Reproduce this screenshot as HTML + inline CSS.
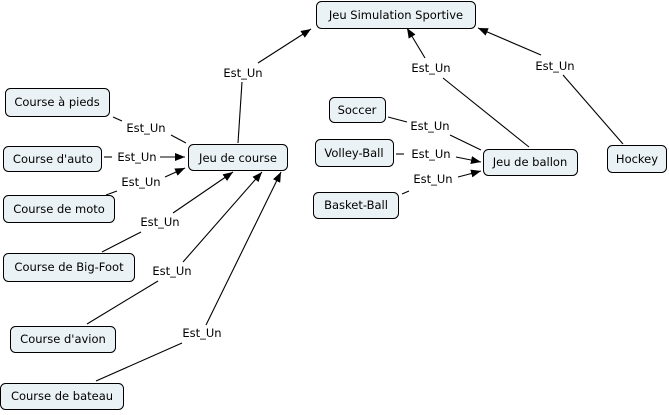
<!DOCTYPE html>
<html><head><meta charset="utf-8"><style>
body{margin:0;background:#fff}
svg text{font-family:"DejaVu Sans","Liberation Sans",sans-serif;font-size:11.5px;fill:#000}
</style></head><body>
<svg width="669" height="410" xmlns="http://www.w3.org/2000/svg">
<defs><marker id="a" markerWidth="10" markerHeight="8" refX="10" refY="4" orient="auto" markerUnits="userSpaceOnUse"><path d="M0,0L10,4L0,8z" fill="#000"/></marker></defs>
<g stroke="#000" stroke-width="1.1" fill="none">
<line x1="238" y1="143" x2="242" y2="82"/><line x1="258" y1="63" x2="311" y2="29" marker-end="url(#a)"/>
<line x1="113" y1="117" x2="122" y2="121"/><line x1="171" y1="135" x2="186" y2="143"/>
<line x1="104" y1="157" x2="112" y2="157"/><line x1="160" y1="157" x2="185" y2="157" marker-end="url(#a)"/>
<line x1="106" y1="195" x2="117" y2="191"/><line x1="165" y1="177" x2="185" y2="168" marker-end="url(#a)"/>
<line x1="102" y1="252" x2="141" y2="232"/><line x1="173" y1="213" x2="233" y2="172" marker-end="url(#a)"/>
<line x1="87" y1="324" x2="158" y2="281"/><line x1="183" y1="262" x2="262" y2="172" marker-end="url(#a)"/>
<line x1="96" y1="381" x2="182" y2="343"/><line x1="206" y1="325" x2="281" y2="172" marker-end="url(#a)"/>
<line x1="388" y1="117" x2="407" y2="122"/><line x1="450" y1="135" x2="481" y2="150"/>
<line x1="396" y1="154" x2="404" y2="154"/><line x1="456" y1="157" x2="481" y2="162" marker-end="url(#a)"/>
<line x1="402" y1="194" x2="409" y2="191"/><line x1="458" y1="177" x2="481" y2="171" marker-end="url(#a)"/>
<line x1="529" y1="147" x2="443" y2="78"/><line x1="425" y1="58" x2="407" y2="28" marker-end="url(#a)"/>
<line x1="623" y1="144" x2="563" y2="75"/><line x1="541" y1="55" x2="478" y2="28" marker-end="url(#a)"/>
</g>
<g fill="#ebf2f5" stroke="#000" stroke-width="1">
<rect x="316.5" y="1.5" width="159" height="27" rx="5"/>
<rect x="5.5" y="88.5" width="104" height="28" rx="5"/>
<rect x="3.5" y="146.5" width="98" height="25" rx="5"/>
<rect x="188.5" y="144.5" width="99" height="26" rx="5"/>
<rect x="3.5" y="195.5" width="111" height="27" rx="5"/>
<rect x="3.5" y="253.5" width="131" height="28" rx="5"/>
<rect x="10.5" y="326.5" width="105" height="26" rx="5"/>
<rect x="0.5" y="383.5" width="123" height="26" rx="5"/>
<rect x="329.5" y="97.5" width="56" height="25" rx="5"/>
<rect x="315.5" y="139.5" width="78" height="27" rx="5"/>
<rect x="313.5" y="192.5" width="85" height="26" rx="5"/>
<rect x="483.5" y="149.5" width="94" height="26" rx="5"/>
<rect x="607.5" y="145.5" width="59" height="27" rx="5"/>
</g>
<g text-anchor="middle">
<text x="396" y="19">Jeu Simulation Sportive</text>
<text x="57" y="106">Course à pieds</text>
<text x="53" y="163">Course d'auto</text>
<text x="238" y="162">Jeu de course</text>
<text x="59" y="213">Course de moto</text>
<text x="69" y="271">Course de Big-Foot</text>
<text x="63" y="343">Course d'avion</text>
<text x="62" y="400">Course de bateau</text>
<text x="357" y="114">Soccer</text>
<text x="354" y="157">Volley-Ball</text>
<text x="356" y="209">Basket-Ball</text>
<text x="530" y="166">Jeu de ballon</text>
<text x="637" y="163">Hockey</text>
<text x="243" y="77">Est_Un</text>
<text x="146" y="132">Est_Un</text>
<text x="137" y="161">Est_Un</text>
<text x="141" y="186">Est_Un</text>
<text x="160" y="226">Est_Un</text>
<text x="172" y="275">Est_Un</text>
<text x="202" y="337">Est_Un</text>
<text x="430" y="130">Est_Un</text>
<text x="431" y="158">Est_Un</text>
<text x="433" y="183">Est_Un</text>
<text x="431" y="72">Est_Un</text>
<text x="555" y="70">Est_Un</text>
</g>
</svg>
</body></html>
